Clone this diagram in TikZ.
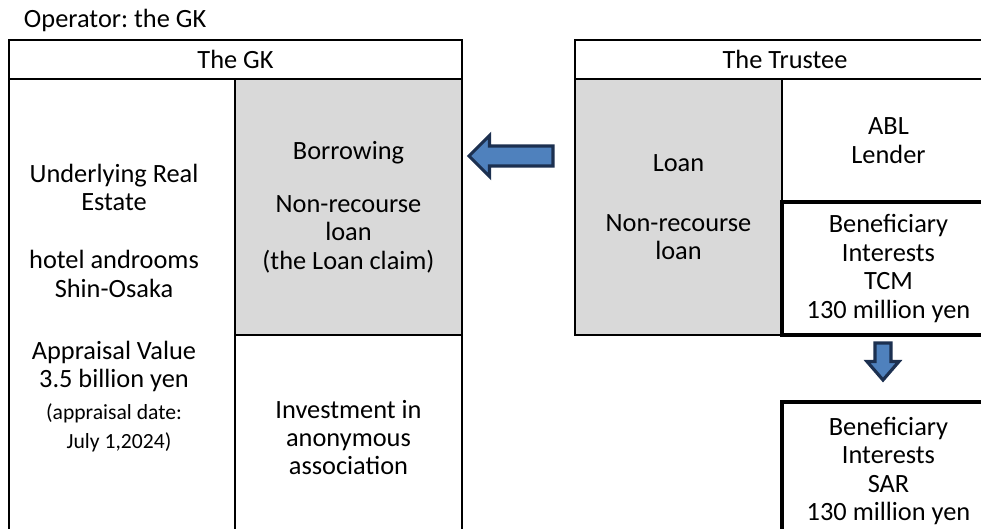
\documentclass[tikz,border=0pt]{standalone}
\usepackage{fontspec}
\setmainfont{Carlito}
\usepackage{tikz}
\usetikzlibrary{positioning,calc}
\frenchspacing

\definecolor{cellgray}{HTML}{D9D9D9}
\definecolor{arrowblue}{HTML}{4F81BD}
\definecolor{arrowedge}{HTML}{1C3050}
\newcommand{\smalltxt}[1]{{\fontsize{12.3}{16.2}\selectfont #1}}

\begin{document}
\begin{tikzpicture}[
  font=\fontsize{15}{16.2}\selectfont,
  every node/.style={align=center, inner sep=0pt, outer sep=0pt},
  cell/.style={draw, line width=1.4pt},
  shaded/.style={cell, fill=cellgray},
  heavy/.style={draw, line width=2.4pt, fill=white},
  blockarrow/.style={draw=arrowedge, fill=arrowblue, line width=1.8pt, line join=miter}
]
\useasboundingbox (0,0) rectangle (19.62,-10.56);
\clip (0,0) rectangle (19.62,-10.56);

\node[anchor=base west] (oper) at (0.48,-0.54) {Operator: the GK};

% the GK
\node[cell, minimum width=9.06cm, minimum height=0.78cm, anchor=north west] (gkhead) at (0.18,-0.80) {The GK};
\node[cell, minimum width=4.52cm, minimum height=9.22cm, below right=0cm and 0cm of gkhead.south west] (gkasset)
  {\begin{tabular}{@{}c@{}}Underlying Real\\Estate\\[17pt]hotel androoms\\Shin-Osaka\\[19pt]Appraisal Value\\3.5 billion yen\\[2pt]
   \smalltxt{(appraisal date:}\\\smalltxt{\hspace*{0.2cm}July 1,2024)}\end{tabular}\hspace*{0.32cm}};
\node[shaded, minimum width=4.54cm, minimum height=5.12cm, below right=0cm and 0cm of gkasset.north east] (gkloan)
  {Borrowing\\[14pt]Non-recourse\\loan\\(the Loan claim)};
\node[cell, minimum width=4.54cm, minimum height=4.10cm, below right=0cm and 0cm of gkloan.south west] (gkequity)
  {Investment in\\anonymous\\association};

% the Trustee
\node[cell, minimum width=8.40cm, minimum height=0.78cm, right=2.26cm of gkhead] (trhead) {The Trustee};
\node[shaded, minimum width=4.14cm, minimum height=5.12cm, below right=0cm and 0cm of trhead.south west] (trloan)
  {Loan\\[18pt]Non-recourse\\loan};
\node[cell, minimum width=4.26cm, minimum height=2.46cm, below right=0cm and 0cm of trloan.north east] (trabl)
  {ABL\\Lender};
\node[heavy, minimum width=4.26cm, minimum height=2.66cm, below right=0cm and 0cm of trabl.south west] (tcm)
  {Beneficiary\\Interests\\TCM\\130 million yen};
\node[heavy, minimum width=4.26cm, minimum height=2.76cm, below=1.34cm of tcm] (sar)
  {Beneficiary\\Interests\\SAR\\130 million yen};

% block arrows
\coordinate (ltip) at ($(gkloan.north east)+(0.14,-1.54)$);
\draw[blockarrow] (ltip) -- ++(0.41,0.41) -- ++(0,-0.21) -- ++(1.27,0) -- ++(0,-0.40)
  -- ++(-1.27,0) -- ++(0,-0.21) -- cycle;
\coordinate (dtip) at ($(tcm.south)+(-0.11,-0.90)$);
\draw[blockarrow] (dtip) -- ++(0.32,0.37) -- ++(-0.16,0) -- ++(0,0.37) -- ++(-0.32,0)
  -- ++(0,-0.37) -- ++(-0.16,0) -- cycle;
\end{tikzpicture}
\end{document}
